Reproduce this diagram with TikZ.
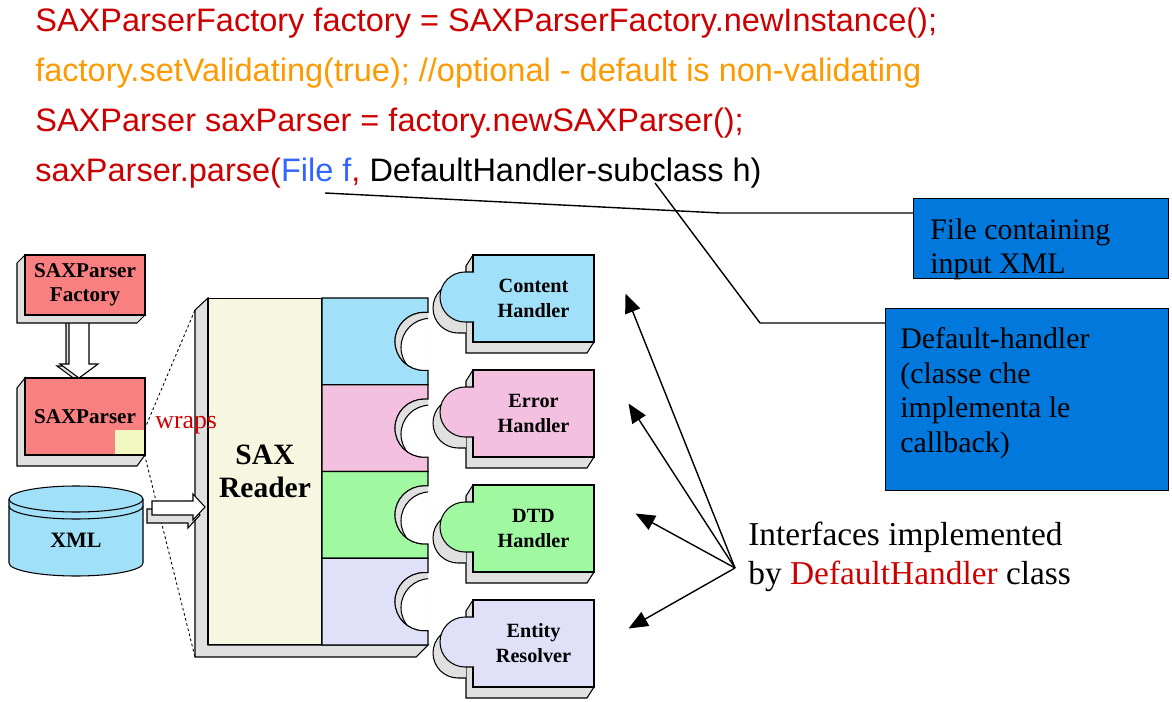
\documentclass[tikz,border=0pt]{standalone}
\usepackage{fontspec}
\setmainfont{Liberation Serif}
\newfontfamily\codefont{Liberation Sans}
\usepackage{tikz}
\usetikzlibrary{arrows.meta, calc, positioning}

\definecolor{codered}{HTML}{CC0000}
\definecolor{codeorange}{HTML}{FF9900}
\definecolor{codeblue}{HTML}{3366FF}
\definecolor{boxblue}{HTML}{0078DC}
\definecolor{salmonfill}{HTML}{F88080}
\definecolor{bevelgray}{HTML}{E0E0E0}
\definecolor{creamfill}{HTML}{F7F7E1}
\definecolor{skyfill}{HTML}{A0E0F8}
\definecolor{pinkfill}{HTML}{F4C0E0}
\definecolor{greenfill}{HTML}{A0F8A0}
\definecolor{lilacfill}{HTML}{E0E0F8}
\definecolor{wrapfill}{HTML}{F0F8C0}

\tikzset{
  codeline/.style={anchor=base west, inner sep=0pt, font=\codefont\fontsize{18.5}{22}\selectfont},
  face/.style={draw, line width=0.6pt, inner sep=0pt, align=center, font=\bfseries\fontsize{11.5}{14.2}\selectfont},
  side3d/.style={fill=bevelgray, draw, line width=0.6pt},
  bluebox/.style={draw, fill=boxblue, line width=0.8pt, anchor=north west, inner sep=0pt},
  bluetext/.style={anchor=north west, align=left, inner sep=0pt, font=\fontsize{17}{19.8}\selectfont},
  pointer/.style={-{Triangle[length=11pt, width=9pt]}, line width=0.8pt},
  leader/.style={line width=0.8pt},
  wrapline/.style={dash pattern=on 1.5pt off 1.5pt, line width=0.5pt},
}

\begin{document}
\begin{tikzpicture}[x=0.02cm, y=-0.02cm]
		\useasboundingbox (0,0) rectangle (1172,702);
		
		% Code
		\node[codeline, text=codered] (line1) at (35,32) {SAXParserFactory factory = SAXParserFactory.newInstance();};
		\node[codeline, text=codeorange] (line2) at (35,82) {factory.setValidating(true); //optional - default is non-validating};
		\node[codeline, text=codered] (line3) at (35,132) {SAXParser saxParser = factory.newSAXParser();};
		\node[codeline, text=codered] (line4) at (35,182) {saxParser.parse(\textcolor{codeblue}{File f}, \textcolor{black}{DefaultHandler-subclass h)}};
		
		% Callout boxes
		\node[bluebox, minimum width=5.1cm, minimum height=1.6cm] (filebox) at (913,198) {};
		\node[bluetext] (filetext) at (930,218) {File containing\\input XML};
		\node[bluebox, minimum width=5.66cm, minimum height=3.64cm] (dhbox) at (885,308) {};
		\node[bluetext] (dhtext) at (900,327) {Default-handler\\(classe che\\implementa le\\callback)};
		
		\coordinate (filepin) at (325,193);
		\coordinate (filebend) at (720,213);
		\coordinate (dhpin) at (655,183);
		\coordinate (dhbend) at (760,323);
		\draw[leader] (filepin) -- (filebend) -- ($(filebox.north west)+(0,15)$);
		\draw[leader] (dhpin) -- (dhbend) -- ($(dhbox.north west)+(0,15)$);
		
		% Factory -> Parser
		\filldraw[side3d] (66,318) -- (66,366) -- (57,366) -- (76,380) -- (95,366) -- (86,366) -- (86,318) -- cycle;
		\filldraw[fill=white, line width=0.6pt] (69,316) -- (69,364) -- (60,364) -- (79,378) -- (98,364) -- (89,364) -- (89,316) -- cycle;
		\filldraw[side3d] (17,263) -- (25,255) -- (25,315) -- (145,315) -- (137,323) -- (17,323) -- cycle;
		\node[face, fill=salmonfill, minimum width=2.4cm, minimum height=1.2cm, font=\bfseries\fontsize{12}{13.6}\selectfont] (factory) at (85,285) {SAXParser\\Factory};
		\filldraw[side3d] (17,388) -- (25,378) -- (25,455) -- (145,455) -- (137,466) -- (17,466) -- cycle;
		\node[face, fill=salmonfill, minimum width=2.4cm, minimum height=1.54cm, font=\bfseries\fontsize{12}{13.6}\selectfont] (parser) at (85,416.5) {SAXParser};
		\node[fill=wrapfill, inner sep=0pt, minimum width=0.59cm, minimum height=0.49cm, anchor=south east] (wrapsq) at (144.5,454.5) {};
		
		% SAX Reader
		\filldraw[side3d] (195,310) -- (208,298) -- (208,645) -- (428,645) -- (416,657) -- (195,657) -- cycle;
		\node[face, fill=creamfill, minimum width=2.28cm, minimum height=6.94cm, font=\bfseries\fontsize{16.8}{18.7}\selectfont] (reader) at (265,471.5) {SAX\\Reader};
		\foreach \scol [count=\i from 0] in {skyfill, pinkfill, greenfill, lilacfill} {
			\pgfmathsetmacro\secTop{298+86.75*\i}
			\pgfmathsetmacro\secMid{\secTop+43.4}
			\filldraw[fill=\scol, line width=0.6pt] (322,\secTop) -- (428,\secTop) -- (428,{\secMid-29}) -- (424,{\secMid-29}) arc[start angle=270, end angle=90, radius=29] -- (428,{\secMid+29}) -- (428,{\secTop+86.75}) -- (322,{\secTop+86.75}) -- cycle;
			\begin{scope}
				\clip (428,{\secMid-29}) -- (424,{\secMid-29}) arc[start angle=270, end angle=90, radius=29] -- (428,{\secMid+29}) -- cycle;
				\fill[bevelgray] (390,{\secMid-32}) rectangle (430,{\secMid+32});
				\filldraw[fill=white, line width=0.6pt] (430,{\secMid+6}) circle[radius=29];
			\end{scope}
			\draw[line width=0.6pt] (428,{\secMid-29}) -- (424,{\secMid-29}) arc[start angle=270, end angle=90, radius=29] -- (428,{\secMid+29});
		}
		
		\draw[wrapline] (wrapsq.north east) -- (195,310);
		\draw[wrapline] (wrapsq.south east) -- (195,657);
		\node[anchor=west, inner sep=0pt, text=codered, font=\fontsize{14.7}{17}\selectfont] (wraps) at (155,425) {wraps};
		
		% XML store
		\path[fill=skyfill, draw, line width=0.6pt] (9,499) -- (9,563) arc[start angle=180, end angle=0, x radius=67, y radius=13] -- (143,499);
		\filldraw[fill=skyfill, line width=0.6pt] (76,499) ellipse[x radius=67, y radius=13];
		\draw[line width=0.6pt] (9,506) arc[start angle=180, end angle=0, x radius=67, y radius=13];
		\node[inner sep=0pt, font=\bfseries\fontsize{12.5}{15}\selectfont] (xml) at (76,540) {XML};
		\filldraw[side3d] (147,509) -- (188,509) -- (188,502) -- (200,515) -- (188,528) -- (188,523) -- (147,523) -- cycle;
		\filldraw[fill=white, line width=0.6pt] (152,501) -- (193,501) -- (193,494) -- (205,507) -- (193,520) -- (193,515) -- (152,515) -- cycle;
		
		% Handlers
		\foreach \hname/\htext/\hcol [count=\i from 0] in {content/Content\\Handler/skyfill, error/Error\\Handler/pinkfill, dtd/DTD\\Handler/greenfill, entity/Entity\\Resolver/lilacfill} {
			\pgfmathsetmacro\hTop{255+115*\i}
			\filldraw[side3d] (466,{\hTop+11}) -- (473,\hTop) -- (594,\hTop) -- (594,{\hTop+87}) -- (587,{\hTop+98}) -- (466,{\hTop+98}) -- cycle;
			\path[fill=bevelgray, draw, line width=0.6pt] (466,{\hTop+28}) -- (458,{\hTop+28}) arc[start angle=270, end angle=90, radius=25] -- (466,{\hTop+78});
			\node[face, fill=\hcol, minimum width=2.42cm, minimum height=1.74cm] (\hname) at (533.5,{\hTop+43.5}) {\htext};
			\path[fill=\hcol, draw, line width=0.6pt] (474,{\hTop+17}) -- (465,{\hTop+17}) arc[start angle=270, end angle=90, radius=25] -- (474,{\hTop+67});
		}
		
		% Interfaces
		\node[anchor=north west, align=left, inner sep=0pt, font=\fontsize{19}{22.1}\selectfont] (iface) at (748,522) {Interfaces implemented\\by \textcolor{codered}{DefaultHandler} class};
		\coordinate (hub) at (735,568);
		\draw[pointer] (hub) -- ($(content.east)+(31,-5)$);
		\draw[pointer] (hub) -- ($(error.east)+(34,-10)$);
		\draw[pointer] (hub) -- ($(dtd.east)+(41,-15)$);
		\draw[pointer] (hub) -- ($(entity.east)+(34,-15)$);
	\end{tikzpicture}
\end{document}
